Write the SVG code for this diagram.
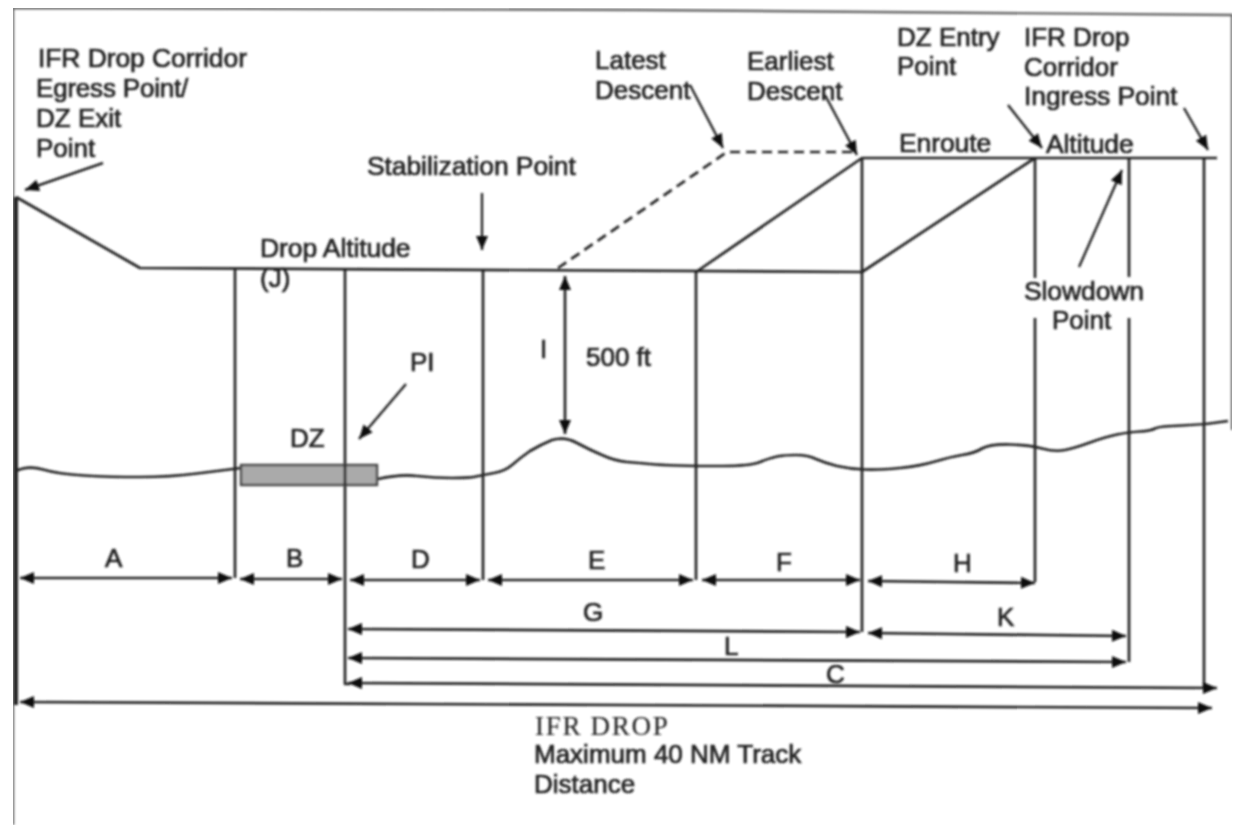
<svg xmlns="http://www.w3.org/2000/svg" width="1235" height="825" viewBox="0 0 1235 825">
<style>
text{font-family:"Liberation Sans",Arial,sans-serif;font-size:26px;fill:#222;stroke:#222;stroke-width:.7px}
.w{font-size:26.5px;letter-spacing:-.1px}
.s{font-family:"Liberation Serif","Times New Roman",serif;font-size:27px;letter-spacing:1.7px;stroke-width:.1px}
.l{fill:none;stroke:#222;stroke-width:2.7px;stroke-linejoin:round}
.t{stroke-width:4px}
.d{stroke-dasharray:10 6}
.f{fill:none;stroke:#666;stroke-width:2.4px}
.a{fill:none;stroke:#222;stroke-width:2.4px;marker-end:url(#h)}
.b{fill:none;stroke:#222;stroke-width:2.7px;marker-start:url(#hs);marker-end:url(#h)}
</style>
<defs>
<marker id="h" markerUnits="userSpaceOnUse" markerWidth="16" markerHeight="14" refX="15" refY="7" orient="auto"><path d="M1 1L15 7L1 13Z" fill="#111"/></marker>
<marker id="hs" markerUnits="userSpaceOnUse" markerWidth="16" markerHeight="14" refX="1" refY="7" orient="auto"><path d="M15 1L1 7L15 13Z" fill="#111"/></marker>
<filter id="blur" x="0" y="0" width="100%" height="100%"><feGaussianBlur stdDeviation="0.9"/></filter>
</defs>
<rect width="1235" height="825" fill="#fff"/>
<g filter="url(#blur)">
<g id="frame">
<path class="f" d="M13 825V8L640 10L1232 15V430"/>
</g>
<g id="profile">
<path class="l t" d="M16 705V197"/>
<path class="l" d="M16 197L140 268L862 272V158"/>
<path class="l" d="M696 272L862 158H1217"/>
<path class="l" d="M862 272L1035 158"/>
<path class="l d" d="M558 268L727 152H855"/>
<path class="l" d="M235 268V578M345 268V684H350M483 270V580M696 272V580M862 272V632M1035 158V278M1035 318V582M1129 158V277M1129 318V662M1204 158V688"/>
</g>
<g id="terrain">
<path class="l" d="M16 471Q28 465 43 469.5Q58 474 84 475.5Q110 477 140 477Q170 477 197 473.5Q225 470 241 468M378 479Q400 474 417 476Q435 478 452 478Q470 478 476 476.5Q483 475 494 473Q505 471 512 465Q520 458 530 451Q540 445 552 440Q565 436 577 443Q590 450 602 455Q615 461 627 462Q640 463 650 464Q660 465 678 465.5Q696 466 723 466Q750 466 760 462Q770 458 777 456.5Q785 455 796 455Q808 455 816 459Q825 463 837 466Q850 469 865 469.5Q880 470 900 468Q920 466 935 461.5Q950 457 962 455Q975 453 982 448.5Q990 444 1010 444.5Q1030 445 1042 448.5Q1055 452 1065 450Q1075 448 1090 442.5Q1105 437 1117 434.5Q1130 432 1140 431.5Q1150 431 1155 428.5Q1160 426 1182 425.5Q1205 425 1228 421"/>
<rect id="dz-strip" x="241" y="465" width="136" height="20" fill="#aaa" stroke="#444" stroke-width="2.4"/>
<path class="l" d="M345 465V485"/>
</g>
<g id="connectors">
<path class="a" d="M103 163L25 190"/>
<path class="a" d="M482 193V250"/>
<path class="b" d="M565 276V434"/>
<path class="a" d="M406 384L359 439"/>
<path class="a" d="M690 85L723 148"/>
<path class="a" d="M825 95L857 155"/>
<path class="a" d="M1008 105L1042 148"/>
<path class="a" d="M1184 108L1208 150"/>
<path class="a" d="M1079 267L1122 170"/>
<path class="b" d="M20 578H232"/>
<path class="b" d="M240 579H342"/>
<path class="b" d="M350 580H480"/>
<path class="b" d="M488 580H693"/>
<path class="b" d="M702 580H860"/>
<path class="b" d="M868 581L1035 583"/>
<path class="b" d="M348 629L860 632"/>
<path class="b" d="M868 633L1126 636"/>
<path class="b" d="M348 658L1126 662"/>
<path class="b" d="M348 683L1217 688"/>
<path class="b" d="M20 702L1212 708"/>
</g>
<g id="labels">
<text class="w" x="38" y="67">IFR Drop Corridor</text>
<text x="36" y="97" style="letter-spacing:-.2px">Egress Point/</text>
<text x="36" y="127">DZ Exit</text>
<text x="36" y="157">Point</text>
<text class="w" x="367" y="175">Stabilization Point</text>
<text class="w" x="260" y="257">Drop Altitude</text>
<text x="260" y="287">(J)</text>
<text x="540" y="358">I</text>
<text x="586" y="366">500 ft</text>
<text x="410" y="371">PI</text>
<text x="290" y="447">DZ</text>
<text x="595" y="69">Latest</text>
<text x="595" y="99">Descent</text>
<text x="747" y="70">Earliest</text>
<text x="747" y="100">Descent</text>
<text x="897" y="46">DZ Entry</text>
<text x="897" y="75">Point</text>
<text x="1024" y="46">IFR Drop</text>
<text x="1024" y="76">Corridor</text>
<text class="w" x="1024" y="105">Ingress Point</text>
<text class="w" x="899" y="152">Enroute</text>
<text class="w" x="1046" y="153">Altitude</text>
<text class="w" x="1024" y="300">Slowdown</text>
<text x="1052" y="329">Point</text>
<text x="105" y="567">A</text>
<text x="286" y="567">B</text>
<text x="411" y="568">D</text>
<text x="588" y="569">E</text>
<text x="776" y="571">F</text>
<text x="953" y="572">H</text>
<text x="583" y="621">G</text>
<text x="997" y="626">K</text>
<text x="724" y="655">L</text>
<text x="826" y="683">C</text>
<text class="s" x="535" y="735">IFR DROP</text>
<text x="534" y="763">Maximum 40 NM Track</text>
<text x="534" y="793">Distance</text>
</g>
</g>
</svg>
